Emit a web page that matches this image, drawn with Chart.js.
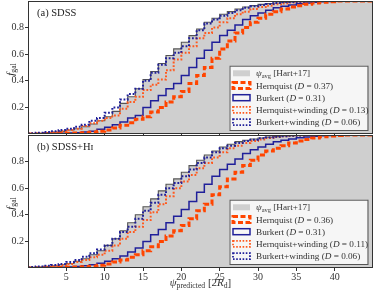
<!DOCTYPE html>
<html>
<head>
<meta charset="utf-8">
<script src="https://cdn.jsdelivr.net/npm/chart.js@4/dist/chart.umd.min.js"></script>
<style>
  body { margin: 0; background: #fff; }
  #wrap { position: relative; width: 374px; height: 294px; }
  canvas { position: absolute; left: 0; }
  #ca { top: 0; }
  #cb { top: 134px; }
</style>
</head>
<body>
<div id="wrap">
  <canvas id="ca" width="374" height="136" style="width:374px;height:136px"></canvas>
  <canvas id="cb" width="374" height="160" style="width:374px;height:160px"></canvas>
</div>
<script>
// cumulative fractions per bin of width 1 in psi (bins 0..44)
const xTicks = [5, 10, 15, 20, 25, 30, 35, 40];
const yTicks = [0.2, 0.4, 0.6, 0.8];

// panel (a) SDSS
const hartA = [0.002,0.004,0.006,0.01,0.014,0.02,0.03,0.04,0.055,0.075,0.1,0.13,0.17,0.23,0.28,0.34,0.41,0.47,0.53,0.59,0.64,0.69,0.74,0.79,0.84,0.87,0.9,0.92,0.94,0.955,0.965,0.975,0.98,0.985,0.99,0.993,0.995,0.997,0.998,0.999,1,1,1,1,1];
const hernA = [0,0,0,0.001,0.002,0.003,0.005,0.007,0.01,0.013,0.02,0.03,0.045,0.065,0.085,0.11,0.13,0.165,0.2,0.24,0.28,0.32,0.38,0.44,0.5,0.57,0.64,0.7,0.76,0.8,0.84,0.87,0.9,0.92,0.94,0.955,0.965,0.975,0.985,0.99,0.995,1,1,1,1];
const burkA = [0,0,0.001,0.002,0.003,0.005,0.007,0.01,0.015,0.02,0.035,0.05,0.07,0.09,0.12,0.14,0.2,0.25,0.29,0.34,0.38,0.44,0.5,0.57,0.63,0.69,0.74,0.78,0.82,0.86,0.89,0.91,0.93,0.95,0.96,0.97,0.98,0.985,0.99,0.995,0.997,1,1,1,1];
const hernWA = [0.002,0.004,0.006,0.01,0.014,0.02,0.03,0.04,0.06,0.08,0.1,0.12,0.14,0.19,0.24,0.28,0.33,0.37,0.41,0.48,0.56,0.61,0.66,0.72,0.76,0.8,0.84,0.87,0.9,0.92,0.94,0.955,0.965,0.975,0.982,0.988,0.992,0.995,0.997,0.998,1,1,1,1,1];
const burkWA = [0.004,0.006,0.01,0.015,0.02,0.03,0.04,0.055,0.07,0.1,0.12,0.16,0.2,0.26,0.3,0.34,0.4,0.46,0.52,0.57,0.61,0.66,0.72,0.78,0.83,0.86,0.89,0.91,0.93,0.95,0.96,0.97,0.978,0.985,0.99,0.993,0.995,0.997,0.998,1,1,1,1,1,1];
const dA = ['0.37', '0.31', '0.13', '0.06'];

// panel (b) SDSS+HI
const hartB = [0.003,0.005,0.008,0.012,0.017,0.024,0.034,0.05,0.07,0.1,0.13,0.17,0.22,0.28,0.34,0.4,0.46,0.52,0.58,0.63,0.67,0.72,0.77,0.81,0.85,0.88,0.91,0.93,0.95,0.96,0.97,0.978,0.984,0.988,0.992,0.995,0.997,0.998,1,1,1,1,1,1,1];
const hernB = [0,0,0,0.001,0.002,0.003,0.005,0.007,0.01,0.014,0.02,0.03,0.045,0.06,0.08,0.1,0.13,0.16,0.2,0.24,0.28,0.32,0.37,0.43,0.48,0.55,0.61,0.67,0.72,0.77,0.81,0.85,0.88,0.9,0.92,0.94,0.955,0.967,0.978,0.986,0.992,0.996,1,1,1];
const burkB = [0,0,0.001,0.002,0.003,0.005,0.008,0.012,0.017,0.025,0.035,0.05,0.07,0.09,0.12,0.15,0.2,0.25,0.29,0.34,0.39,0.44,0.5,0.57,0.63,0.69,0.74,0.78,0.82,0.86,0.89,0.91,0.93,0.95,0.96,0.97,0.98,0.985,0.99,0.995,0.997,1,1,1,1];
const hernWB = [0.003,0.005,0.008,0.012,0.016,0.022,0.03,0.045,0.06,0.08,0.1,0.13,0.17,0.22,0.27,0.31,0.36,0.42,0.48,0.54,0.6,0.65,0.7,0.75,0.79,0.83,0.87,0.9,0.92,0.94,0.955,0.967,0.977,0.985,0.99,0.993,0.996,0.998,1,1,1,1,1,1,1];
const burkWB = [0.004,0.007,0.011,0.016,0.022,0.03,0.045,0.06,0.085,0.11,0.14,0.17,0.22,0.27,0.31,0.37,0.43,0.49,0.55,0.6,0.64,0.69,0.74,0.79,0.83,0.87,0.9,0.92,0.94,0.955,0.965,0.975,0.982,0.987,0.991,0.994,0.996,0.998,1,1,1,1,1,1,1];
const dB = ['0.36', '0.31', '0.11', '0.06'];

const FONT = '"Liberation Serif", "DejaVu Serif", serif';
const GREY = '#cfcfcf';
const ORANGE = '#ff4500';
const ORANGE2 = '#ff5a1f';
const NAVY = '#20209a';

// bins -> step points, last bin closed at x = 45
function steps(vals) {
  const pts = vals.map((v, i) => ({ x: i, y: v }));
  pts.push({ x: vals.length, y: vals[vals.length - 1] });
  return pts;
}

// draw text made of pieces: n = normal, i = italic, s = subscript
function rich(ctx, parts, x, y, size, measureOnly) {
  let cx = x;
  for (const [t, st] of parts) {
    let f = size, dy = 0, it = '';
    if (st === 'i') it = 'italic ';
    if (st === 's') { f = size * 0.7; dy = size * 0.22; }
    ctx.font = it + f + 'px ' + FONT;
    if (!measureOnly) ctx.fillText(t, cx, y + dy);
    cx += ctx.measureText(t).width;
  }
  return cx - x;
}

const panelPlugin = {
  id: 'panel',
  afterDraw(chart, args, o) {
    const ctx = chart.ctx, a = chart.chartArea;
    ctx.save();
    ctx.strokeStyle = '#333';
    ctx.lineWidth = 1;
    ctx.strokeRect(a.left + 0.5, a.top + 0.5, a.right - a.left - 1, a.bottom - a.top - 1);

    ctx.fillStyle = '#222';
    ctx.textBaseline = 'alphabetic';
    ctx.textAlign = 'left';
    ctx.font = '10.5px ' + FONT;
    ctx.fillText(o.label, a.left + 9, a.top + 15);

    // y title f_gal, sitting between the 0.4 and 0.6 labels
    ctx.save();
    ctx.translate(13.5, (a.top + a.bottom) / 2 + 2);
    ctx.rotate(-Math.PI / 2);
    const yt = [['f', 'i'], ['gal', 's']];
    const yw = rich(ctx, yt, 0, 0, 11, true);
    rich(ctx, yt, -yw / 2, 0, 11);
    ctx.restore();

    // legend
    const bw = 138, bh = 64.3;
    const bx = a.right - 143.5, by = a.bottom - 68.3;
    ctx.fillStyle = 'rgba(255,255,255,0.8)';
    ctx.fillRect(bx, by, bw, bh);
    ctx.strokeStyle = '#555';
    ctx.lineWidth = 1;
    ctx.strokeRect(bx + 0.5, by + 0.5, bw, bh);
    const items = [
      { kind: 'fill', text: [['ψ', 'i'], ['avg', 's'], [' [Hart+17]', 'n']] },
      { kind: 'line', color: ORANGE, w: 3, dash: [5, 2.5], text: [['Hernquist (', 'n'], ['D', 'i'], [' = ' + o.d[0] + ')', 'n']] },
      { kind: 'line', color: NAVY, w: 1.5, dash: [], text: [['Burkert (', 'n'], ['D', 'i'], [' = ' + o.d[1] + ')', 'n']] },
      { kind: 'line', color: ORANGE2, w: 1.8, dash: [1.6, 1.6], text: [['Hernquist+winding (', 'n'], ['D', 'i'], [' = ' + o.d[2] + ')', 'n']] },
      { kind: 'line', color: NAVY, w: 1.8, dash: [1.6, 1.6], text: [['Burkert+winding (', 'n'], ['D', 'i'], [' = ' + o.d[3] + ')', 'n']] }
    ];
    items.forEach((it, i) => {
      const cy = by + 7.6 + i * 12.2;
      const px = bx + 3.5, pw = 17, ph = 6;
      if (it.kind === 'fill') {
        ctx.fillStyle = GREY;
        ctx.fillRect(px, cy - ph / 2, pw, ph);
      } else {
        ctx.strokeStyle = it.color;
        ctx.lineWidth = it.w;
        ctx.setLineDash(it.dash);
        ctx.strokeRect(px, cy - ph / 2, pw, ph);
        ctx.setLineDash([]);
      }
      ctx.fillStyle = '#333';
      rich(ctx, it.text, bx + 26.5, cy + 3, 9.2);
    });

    // x title
    if (o.xtitle) {
      ctx.fillStyle = '#333';
      const xt = [['ψ', 'i'], ['predicted', 's'], [' [2', 'n'], ['R', 'i'], ['d', 's'], [']', 'n']];
      const w = rich(ctx, xt, 0, 0, 11, true);
      rich(ctx, xt, (a.left + a.right) / 2 - w / 2, chart.height - 8, 11);
    }
    ctx.restore();
  }
};

function makePanel(id, s, label, d, showX) {
  const base = { stepped: 'after', pointRadius: 0, fill: false, borderCapStyle: 'butt' };
  return new Chart(document.getElementById(id), {
    type: 'line',
    data: {
      datasets: [
        { ...base, data: steps(s.hart), borderColor: '#555', borderWidth: 1.1, backgroundColor: GREY, fill: 'origin', order: 10 },
        { ...base, data: steps(s.burk), borderColor: NAVY, borderWidth: 1.5, order: 4 },
        { ...base, data: steps(s.hern), borderColor: ORANGE, borderWidth: 3, borderDash: [5, 2.5], order: 3 },
        { ...base, data: steps(s.hernW), borderColor: ORANGE2, borderWidth: 2, borderDash: [1.8, 1.8], order: 2 },
        { ...base, data: steps(s.burkW), borderColor: NAVY, borderWidth: 2, borderDash: [1.8, 1.8], order: 1 }
      ]
    },
    options: {
      responsive: false,
      animation: false,
      layout: { padding: { top: 1, right: 1, left: 0, bottom: 0 } },
      plugins: {
        legend: { display: false },
        tooltip: { enabled: false },
        panel: { label: label, d: d, xtitle: showX }
      },
      scales: {
        x: {
          type: 'linear', min: 0, max: 45,
          afterFit: sc => { sc.height = showX ? 26 : 2; sc.paddingLeft = 0; sc.paddingRight = 0; },
          afterBuildTicks: sc => { sc.ticks = xTicks.map(v => ({ value: v })); },
          ticks: { display: showX, padding: 0, color: '#333', font: { family: FONT, size: 10 }, callback: v => String(v) },
          grid: { drawOnChartArea: false, drawTicks: true, tickLength: 3, color: '#333' },
          border: { display: false }
        },
        y: {
          min: 0, max: 1,
          afterFit: sc => { sc.width = 28; sc.paddingTop = 0; sc.paddingBottom = 0; },
          afterBuildTicks: sc => { sc.ticks = yTicks.map(v => ({ value: v })); },
          ticks: { padding: 1, color: '#333', font: { family: FONT, size: 10 }, callback: v => v.toFixed(1) },
          grid: { drawOnChartArea: false, drawTicks: true, tickLength: 3, color: '#333' },
          border: { display: false }
        }
      }
    },
    plugins: [panelPlugin]
  });
}

makePanel('ca', { hart: hartA, hern: hernA, burk: burkA, hernW: hernWA, burkW: burkWA }, '(a) SDSS', dA, false);
makePanel('cb', { hart: hartB, hern: hernB, burk: burkB, hernW: hernWB, burkW: burkWB }, '(b) SDSS+H\u026A', dB, true);
</script>
</body>
</html>
